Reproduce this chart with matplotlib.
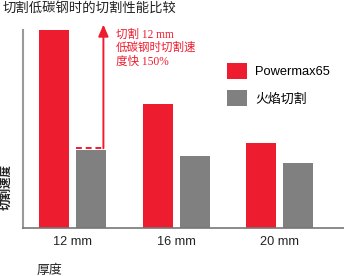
import matplotlib
matplotlib.use("Agg")
import matplotlib.pyplot as plt
import numpy as np

plt.rcParams['font.family'] = ['Liberation Sans', 'Noto Sans CJK SC', 'DejaVu Sans']

categories = ["12 mm", "16 mm", "20 mm"]
series_names = ["Powermax65", "火焰切割"]
powermax = [254, 159, 109]
flame = [100, 92, 83]

title = "切割低碳钢时的切割性能比较"
ylabel = "切割速度"
xlabel = "厚度"
note = "切割 12 mm\n低碳钢时切割速\n度快 150%"

RED = "#ED1C2E"
GRAY = "#808080"

W, H = 344, 276
fig = plt.figure(figsize=(W / 100, H / 100), dpi=100)
ax = fig.add_axes([23 / W, (H - 228) / H, (W - 23) / W, (228 - 30) / H])

x = np.arange(len(categories))
bw = 0.29
off = 0.179
b1 = ax.bar(x - off, powermax, bw, color=RED, label=series_names[0])
b2 = ax.bar(x + off, flame, bw, color=GRAY, label=series_names[1])

ax.set_xlim(-0.478, 2.62)
ax.set_ylim(0, 254)
for s in ["top", "right"]:
    ax.spines[s].set_visible(False)
ax.spines["left"].set_color("#999999")
ax.spines["left"].set_linewidth(1.5)
ax.spines["bottom"].set_color("#777777")
ax.spines["bottom"].set_linewidth(1.2)
ax.set_yticks([])
ax.set_xticks(x)
ax.set_xticklabels(categories, fontsize=9.2, color="#222222")
ax.tick_params(axis="x", length=0, pad=6)

# annotation: dashed line + arrow
y_dash = flame[0] + 3
x_arrow = 0.298
ax.plot([x[0] + off - bw / 2, x_arrow], [y_dash, y_dash], color=RED, lw=1.4,
        ls=(0, (3, 2)), clip_on=False)
ax.annotate("", xy=(x_arrow, 261), xytext=(x_arrow, y_dash - 0.7),
            arrowprops=dict(arrowstyle="-|>,head_length=0.7,head_width=0.3",
                            color=RED, lw=1.4, shrinkA=0, shrinkB=0),
            annotation_clip=False)
ax.text(0.415, 256, note, color=RED, fontsize=8.3, va="top", ha="left",
        linespacing=1.18, family=["Liberation Serif", "Noto Sans CJK SC"])

fig.text(3 / W, 1 - 8 / H, title, fontsize=9.6, va="center", ha="left",
         color="#222222", family=["Noto Sans CJK SC"])
fig.text(6.5 / W, 1 - 187 / H, ylabel, fontsize=8.3, rotation=90, va="center",
         ha="center", color="#222222", family=["Noto Sans CJK SC"],
         fontweight="bold")
fig.text(37 / W, 1 - 270.5 / H, xlabel, fontsize=9.3, va="center", ha="left",
         color="#222222", family=["Noto Sans CJK SC"])

leg = ax.legend(loc="upper left", bbox_to_anchor=(227 / W, 1 - 63 / H),
                bbox_transform=fig.transFigure, frameon=False, borderpad=0,
                borderaxespad=0, fontsize=9.3, handlelength=1.55,
                handleheight=1.55, handletextpad=0.62, labelspacing=0.85)

fig.savefig("out.png", dpi=100)
